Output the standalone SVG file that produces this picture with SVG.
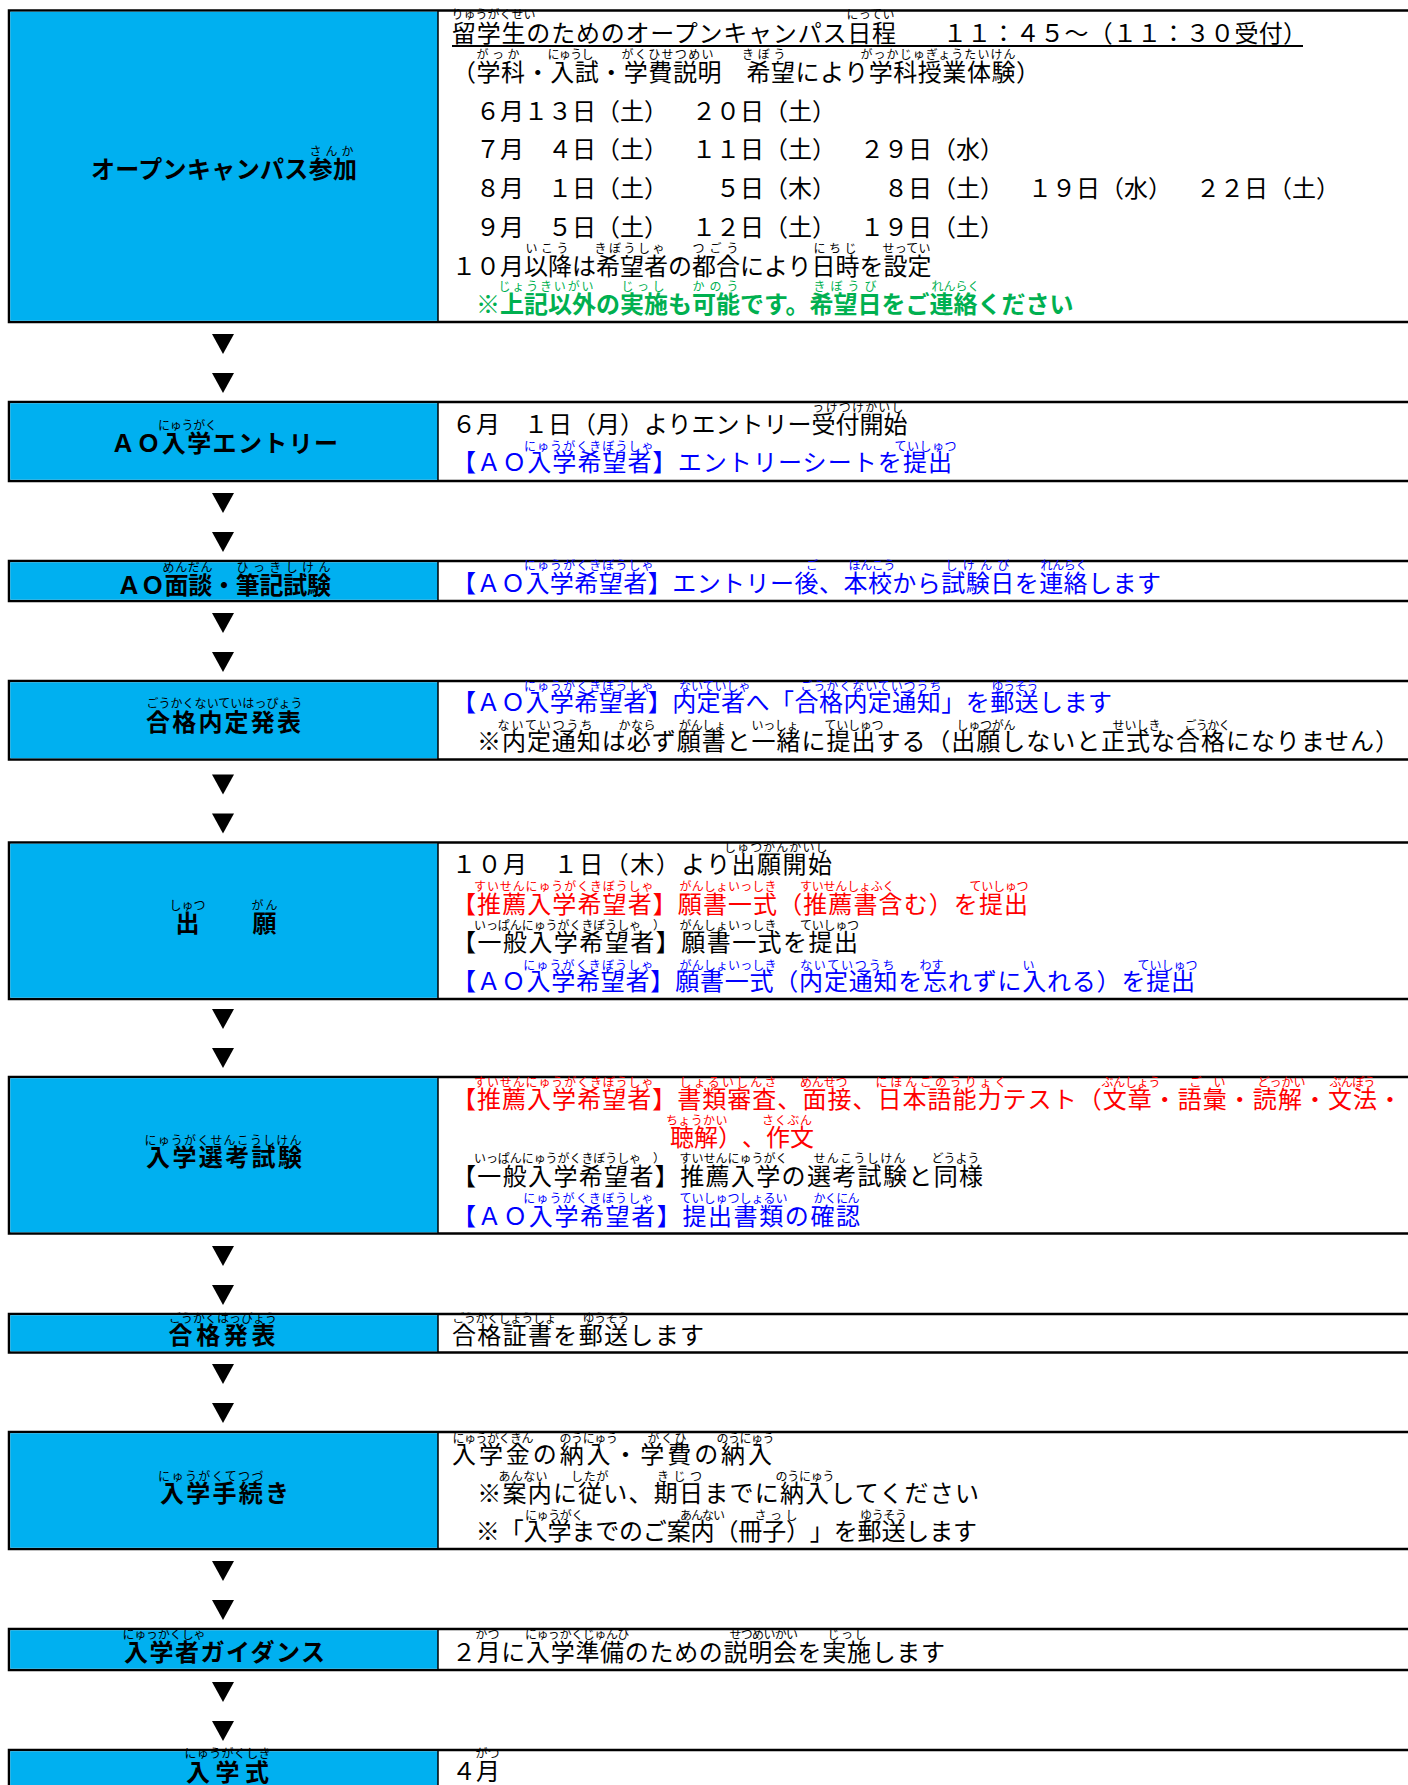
<svg xmlns="http://www.w3.org/2000/svg" xmlns:xlink="http://www.w3.org/1999/xlink" width="1408" height="1785" viewBox="0 0 1408 1785">
<style>
text{font-family:"Noto Sans CJK JP","Noto Sans CJK SC",sans-serif;fill:#000;text-spacing-trim:space-all}
.lb{font-size:24px;font-weight:700}
.t{font-size:24px;font-weight:400}
.r{font-size:12px;font-weight:400}
.red{fill:#ff0000}
.blue{fill:#0000ff}
.green{fill:#00b050}
.gb{fill:#00b050;font-weight:700}
.row{fill:#ffffff;stroke:#000;stroke-width:2.5}
.lc{fill:#00b0f0}
.dv{stroke:#000;stroke-width:1.5}
.ul{stroke:#000;stroke-width:2}
.arr{fill:#000}
</style>
<defs>
<polygon id="arr" class="arr" points="0,0 22,0 11,20"/>
</defs>
<rect width="1408" height="1785" fill="#ffffff"/>

<g id="step1">
<rect class="row" x="9" y="10.5" width="1420" height="311.5"/>
<rect class="lc" x="10.25" y="11.75" width="427.75" height="309"/>
<line class="dv" x1="438" y1="10.5" x2="438" y2="322"/>
<text class="lb" x="91" y="178" textLength="266">オープンキャンパス参加</text>
<text class="r" x="309.5" y="156" textLength="44">さんか</text>
<text class="t" x="452" y="42" textLength="444">留学生のためのオープンキャンパス日程</text>
<text class="t" x="943" y="42" textLength="364">１１：４５～（１１：３０受付）</text>
<line class="ul" x1="452" y1="46" x2="1303" y2="46"/>
<text class="r" x="451.5" y="19" textLength="84">りゅうがくせい</text>
<text class="r" x="846.5" y="19" textLength="48">にってい</text>
<text class="t" x="452" y="81" textLength="588">（学科・入試・学費説明　希望により学科授業体験）</text>
<text class="r" x="476.5" y="59" textLength="43">がっか</text>
<text class="r" x="547.5" y="59" textLength="46">にゅうし</text>
<text class="r" x="621.5" y="59" textLength="92">がくひせつめい</text>
<text class="r" x="742" y="59" textLength="43.5">きぼう</text>
<text class="r" x="860.5" y="59" textLength="155">がっかじゅぎょうたいけん</text>
<text class="t" y="120"><tspan x="452">　６月１３日（土）</tspan><tspan x="692">２０日（土）</tspan></text>
<text class="t" y="158"><tspan x="452">　７月　４日（土）</tspan><tspan x="692">１１日（土）</tspan><tspan x="860">２９日（水）</tspan></text>
<text class="t" y="197"><tspan x="452">　８月　１日（土）</tspan><tspan x="716">５日（木）</tspan><tspan x="884">８日（土）</tspan><tspan x="1028">１９日（水）</tspan><tspan x="1196">２２日（土）</tspan></text>
<text class="t" y="236"><tspan x="452">　９月　５日（土）</tspan><tspan x="692">１２日（土）</tspan><tspan x="860">１９日（土）</tspan></text>
<text class="t" x="452" y="275">１０月以降は希望者の都合により日時を設定</text>
<text class="r" x="525.5" y="253" textLength="43">いこう</text>
<text class="r" x="594.5" y="253" textLength="70">きぼうしゃ</text>
<text class="r" x="692.5" y="253" textLength="46">つごう</text>
<text class="r" x="813.5" y="253" textLength="43">にちじ</text>
<text class="r" x="882.5" y="253" textLength="48">せってい</text>
<text class="t gb" x="452" y="313">　※上記以外の実施も可能です。希望日をご連絡ください</text>
<text class="r green" x="498.5" y="291" textLength="95">じょうきいがい</text>
<text class="r green" x="621.5" y="291" textLength="43">じっし</text>
<text class="r green" x="692.5" y="291" textLength="46">かのう</text>
<text class="r green" x="813.5" y="291" textLength="63">きぼうび</text>
<text class="r green" x="931.5" y="291" textLength="48">れんらく</text>
</g>

<g id="step2">
<rect class="row" x="9" y="402" width="1420" height="79"/>
<rect class="lc" x="10.25" y="403.25" width="427.75" height="76.5"/>
<line class="dv" x1="438" y1="402" x2="438" y2="481"/>
<text class="lb" x="111" y="452" textLength="227">ＡＯ入学エントリー</text>
<text class="r" x="158" y="430" textLength="59">にゅうがく</text>
<text class="t" x="452" y="433">６月　１日（月）よりエントリー受付開始</text>
<text class="r" x="812.5" y="411.5" textLength="91">うけつけかいし</text>
<text class="t blue" x="452" y="471" textLength="500">【ＡＯ入学希望者】エントリーシートを提出</text>
<text class="r blue" x="524" y="451" textLength="129.5">にゅうがくきぼうしゃ</text>
<text class="r blue" x="894.5" y="451" textLength="62">ていしゅつ</text>
</g>

<g id="step3">
<rect class="row" x="9" y="561" width="1420" height="40"/>
<rect class="lc" x="10.25" y="562.25" width="427.75" height="37.5"/>
<line class="dv" x1="438" y1="561" x2="438" y2="601"/>
<text class="lb" x="117" y="594" textLength="214">ＡＯ面談・筆記試験</text>
<text class="r" x="162.5" y="572" textLength="50">めんだん</text>
<text class="r" x="236.5" y="572" textLength="94">ひっきしけん</text>
<text class="t blue" x="452" y="592" textLength="709">【ＡＯ入学希望者】エントリー後、本校から試験日を連絡します</text>
<text class="r blue" x="524" y="570" textLength="129.5">にゅうがくきぼうしゃ</text>
<text class="r blue" x="806" y="570">ご</text>
<text class="r blue" x="848.5" y="570" textLength="47">ほんこう</text>
<text class="r blue" x="945.5" y="570" textLength="64">しけんび</text>
<text class="r blue" x="1040.5" y="570" textLength="47">れんらく</text>
</g>

<g id="step4">
<rect class="row" x="9" y="681" width="1420" height="78.5"/>
<rect class="lc" x="10.25" y="682.25" width="427.75" height="76"/>
<line class="dv" x1="438" y1="681" x2="438" y2="759.5"/>
<text class="lb" x="146" y="731" textLength="155">合格内定発表</text>
<text class="r" x="146.5" y="708" textLength="156">ごうかくないていはっぴょう</text>
<text class="t blue" x="452" y="711" textLength="660">【ＡＯ入学希望者】内定者へ「合格内定通知」を郵送します</text>
<text class="r blue" x="524" y="691" textLength="129.5">にゅうがくきぼうしゃ</text>
<text class="r blue" x="679" y="691" textLength="71.5">ないていしゃ</text>
<text class="r blue" x="800.5" y="691" textLength="141">ごうかくないていつうち</text>
<text class="r blue" x="991.5" y="691" textLength="47">ゆうそう</text>
<text class="t" x="452" y="750" textLength="947">　※内定通知は必ず願書と一緒に提出する（出願しないと正式な合格になりません）</text>
<text class="r" x="497.5" y="729.5" textLength="95">ないていつうち</text>
<text class="r" x="618.5" y="729.5" textLength="37">かなら</text>
<text class="r" x="679" y="729.5" textLength="47">がんしょ</text>
<text class="r" x="751.5" y="729.5" textLength="47">いっしょ</text>
<text class="r" x="824.5" y="729.5" textLength="59">ていしゅつ</text>
<text class="r" x="956.5" y="729.5" textLength="59">しゅつがん</text>
<text class="r" x="1112.5" y="729.5" textLength="48">せいしき</text>
<text class="r" x="1184.5" y="729.5" textLength="46">ごうかく</text>
</g>

<g id="step5">
<rect class="row" x="9" y="842.5" width="1420" height="156.5"/>
<rect class="lc" x="10.25" y="843.75" width="427.75" height="154"/>
<line class="dv" x1="438" y1="842.5" x2="438" y2="999"/>
<text class="lb" x="175.5" y="932" textLength="101">出　　願</text>
<text class="r" x="169.5" y="910" textLength="36">しゅつ</text>
<text class="r" x="251.5" y="910" textLength="26">がん</text>
<text class="t" x="452" y="873" textLength="380">１０月　１日（木）より出願開始</text>
<text class="r" x="724" y="851.5" textLength="103.5">しゅつがんかいし</text>
<text class="t red" x="452" y="913" textLength="576">【推薦入学希望者】願書一式（推薦書含む）を提出</text>
<text class="r red" x="474" y="891" textLength="179.5">すいせんにゅうがくきぼうしゃ</text>
<text class="r red" x="679.5" y="891" textLength="97">がんしょいっしき</text>
<text class="r red" x="800" y="891" textLength="94.5">すいせんしょふく</text>
<text class="r red" x="969.5" y="891" textLength="59">ていしゅつ</text>
<text class="t" x="452" y="951" textLength="406">【一般入学希望者】願書一式を提出</text>
<text class="r" x="474" y="930" textLength="191">いっぱんにゅうがくきぼうしゃ　）</text>
<text class="r" x="679.5" y="930" textLength="97">がんしょいっしき</text>
<text class="r" x="800" y="930" textLength="59">ていしゅつ</text>
<text class="t blue" x="452" y="990" textLength="743">【ＡＯ入学希望者】願書一式（内定通知を忘れずに入れる）を提出</text>
<text class="r blue" x="523.25" y="969.5" textLength="130">にゅうがくきぼうしゃ</text>
<text class="r blue" x="679.5" y="969.5" textLength="97">がんしょいっしき</text>
<text class="r blue" x="800" y="969.5" textLength="94.5">ないていつうち</text>
<text class="r blue" x="919.5" y="969.5" textLength="24">わす</text>
<text class="r blue" x="1022.5" y="969.5">い</text>
<text class="r blue" x="1137.5" y="969.5" textLength="60">ていしゅつ</text>
</g>

<g id="step6">
<rect class="row" x="9" y="1077" width="1420" height="156.5"/>
<rect class="lc" x="10.25" y="1078.25" width="427.75" height="154"/>
<line class="dv" x1="438" y1="1077" x2="438" y2="1233.5"/>
<text class="lb" x="146" y="1166" textLength="156">入学選考試験</text>
<text class="r" x="144.5" y="1145" textLength="157">にゅうがくせんこうしけん</text>
<text class="t red" x="452" y="1108" textLength="950">【推薦入学希望者】書類審査、面接、日本語能力テスト（文章・語彙・読解・文法・</text>
<text class="r red" x="474" y="1086.5" textLength="179.5">すいせんにゅうがくきぼうしゃ</text>
<text class="r red" x="679.5" y="1086.5" textLength="97">しょるいしんさ</text>
<text class="r red" x="800" y="1086.5" textLength="47.5">めんせつ</text>
<text class="r red" x="875.5" y="1086.5" textLength="131">にほんごのうりょく</text>
<text class="r red" x="1101.5" y="1086.5" textLength="59">ぶんしょう</text>
<text class="r red" x="1189.5" y="1086.5" textLength="36">ごい</text>
<text class="r red" x="1257.5" y="1086.5" textLength="48">どっかい</text>
<text class="r red" x="1329.5" y="1086.5" textLength="46">ぶんぽう</text>
<text class="t red" x="670" y="1146" textLength="144">聴解）、作文</text>
<text class="r red" x="666" y="1125" textLength="61.5">ちょうかい</text>
<text class="r red" x="762" y="1125" textLength="50">さくぶん</text>
<text class="t" x="452" y="1185" textLength="531">【一般入学希望者】推薦入学の選考試験と同様</text>
<text class="r" x="474" y="1163" textLength="191">いっぱんにゅうがくきぼうしゃ　）</text>
<text class="r" x="679.5" y="1163" textLength="108">すいせんにゅうがく</text>
<text class="r" x="813.5" y="1163" textLength="92">せんこうしけん</text>
<text class="r" x="931.5" y="1163" textLength="48">どうよう</text>
<text class="t blue" x="452" y="1225" textLength="408">【ＡＯ入学希望者】提出書類の確認</text>
<text class="r blue" x="523.25" y="1203" textLength="130">にゅうがくきぼうしゃ</text>
<text class="r blue" x="679.5" y="1203" textLength="108">ていしゅつしょるい</text>
<text class="r blue" x="813.5" y="1203" textLength="46">かくにん</text>
</g>

<g id="step7">
<rect class="row" x="9" y="1314" width="1420" height="38.5"/>
<rect class="lc" x="10.25" y="1315.25" width="427.75" height="36"/>
<line class="dv" x1="438" y1="1314" x2="438" y2="1352.5"/>
<text class="lb" x="168.5" y="1344" textLength="107">合格発表</text>
<text class="r" x="169" y="1323" textLength="108">ごうかくはっぴょう</text>
<text class="t" x="452" y="1344" textLength="252">合格証書を郵送します</text>
<text class="r" x="452.5" y="1322.5" textLength="104">ごうかくしょうしょ</text>
<text class="r" x="582.5" y="1322.5" textLength="47">ゆうそう</text>
</g>

<g id="step8">
<rect class="row" x="9" y="1432" width="1420" height="117"/>
<rect class="lc" x="10.25" y="1433.25" width="427.75" height="114.5"/>
<line class="dv" x1="438" y1="1432" x2="438" y2="1549"/>
<text class="lb" x="160" y="1502" textLength="129">入学手続き</text>
<text class="r" x="158" y="1481" textLength="105.5">にゅうがくてつづ</text>
<text class="t" x="452" y="1463" textLength="320">入学金の納入・学費の納入</text>
<text class="r" x="452.5" y="1442.5" textLength="81">にゅうがくきん</text>
<text class="r" x="559.5" y="1442.5" textLength="58.5">のうにゅう</text>
<text class="r" x="647.5" y="1442.5" textLength="39">がくひ</text>
<text class="r" x="716.5" y="1442.5" textLength="58">のうにゅう</text>
<text class="t" x="452" y="1502" textLength="527">　※案内に従い、期日までに納入してください</text>
<text class="r" x="498.5" y="1481" textLength="49">あんない</text>
<text class="r" x="571" y="1481" textLength="37.5">したが</text>
<text class="r" x="657" y="1481" textLength="45">きじつ</text>
<text class="r" x="775.5" y="1481" textLength="59">のうにゅう</text>
<text class="t" x="452" y="1540" textLength="525">　※「入学までのご案内（冊子）」を郵送します</text>
<text class="r" x="525" y="1519.5" textLength="58.5">にゅうがく</text>
<text class="r" x="680" y="1519.5" textLength="45">あんない</text>
<text class="r" x="754.5" y="1519.5" textLength="43">さっし</text>
<text class="r" x="860" y="1519.5" textLength="47">ゆうそう</text>
</g>

<g id="step9">
<rect class="row" x="9" y="1629" width="1420" height="41"/>
<rect class="lc" x="10.25" y="1630.25" width="427.75" height="38.5"/>
<line class="dv" x1="438" y1="1629" x2="438" y2="1670"/>
<text class="lb" x="124" y="1661" textLength="201">入学者ガイダンス</text>
<text class="r" x="122.5" y="1639" textLength="83">にゅうがくしゃ</text>
<text class="t" x="452" y="1661" textLength="493">２月に入学準備のための説明会を実施します</text>
<text class="r" x="475.5" y="1639" textLength="24">がつ</text>
<text class="r" x="525" y="1639" textLength="104.5">にゅうがくじゅんび</text>
<text class="r" x="729.5" y="1639" textLength="68.5">せつめいかい</text>
<text class="r" x="827.5" y="1639" textLength="39">じっし</text>
</g>

<g id="step10">
<rect class="row" x="9" y="1750" width="1420" height="60"/>
<rect class="lc" x="10.25" y="1751.25" width="427.75" height="58"/>
<line class="dv" x1="438" y1="1750" x2="438" y2="1810"/>
<text class="lb" x="186" y="1781" textLength="83">入学式</text>
<text class="r" x="184.5" y="1758" textLength="86">にゅうがくしき</text>
<text class="t" x="452" y="1780">４月</text>
<text class="r" x="475.5" y="1758" textLength="24">がつ</text>
</g>

<g id="connectors">
<use xlink:href="#arr" x="212" y="334"/>
<use xlink:href="#arr" x="212" y="373"/>
<use xlink:href="#arr" x="212" y="493"/>
<use xlink:href="#arr" x="212" y="532"/>
<use xlink:href="#arr" x="212" y="613"/>
<use xlink:href="#arr" x="212" y="652"/>
<use xlink:href="#arr" x="212" y="774.5"/>
<use xlink:href="#arr" x="212" y="813.5"/>
<use xlink:href="#arr" x="212" y="1009"/>
<use xlink:href="#arr" x="212" y="1048"/>
<use xlink:href="#arr" x="212" y="1246"/>
<use xlink:href="#arr" x="212" y="1285"/>
<use xlink:href="#arr" x="212" y="1364"/>
<use xlink:href="#arr" x="212" y="1403"/>
<use xlink:href="#arr" x="212" y="1561"/>
<use xlink:href="#arr" x="212" y="1600"/>
<use xlink:href="#arr" x="212" y="1682"/>
<use xlink:href="#arr" x="212" y="1721"/>
</g>
</svg>
